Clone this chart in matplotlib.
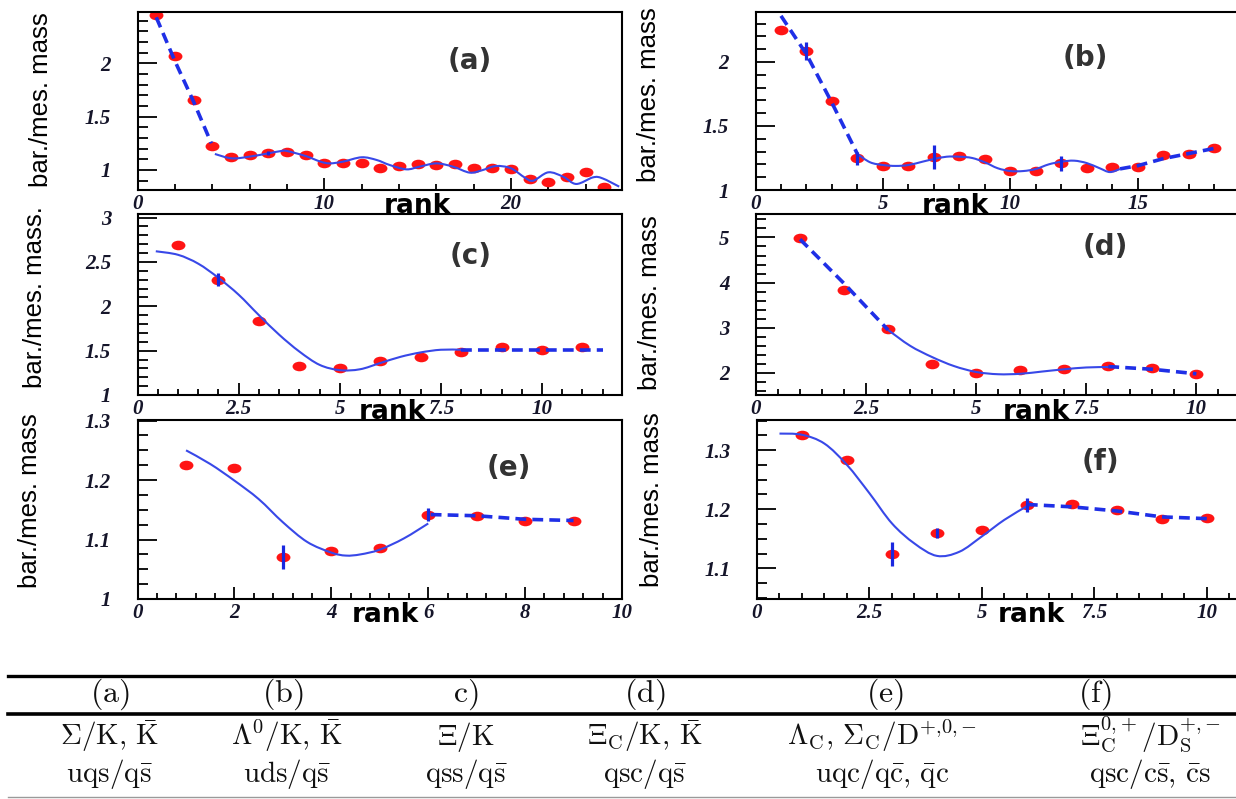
import numpy as np
import matplotlib
matplotlib.use("Agg")
import matplotlib.pyplot as plt
from matplotlib.path import Path
from matplotlib.patches import PathPatch
from matplotlib.transforms import Affine2D
from matplotlib.lines import Line2D
from matplotlib.ticker import MultipleLocator, FuncFormatter, NullFormatter

# ---------------- data: baryon / meson mass ratios vs. rank ----------------
a_rank = list(range(1, 26))
a_ratio = [2.45, 2.07, 1.66, 1.225, 1.125, 1.14, 1.162, 1.172, 1.14, 1.062,
           1.069, 1.062, 1.016, 1.037, 1.053, 1.047, 1.056, 1.022, 1.022, 1.006,
           0.912, 0.89, 0.937, 0.978, 0.844]
a_err_rank = [7]
a_err_size = [0.02]
a_trend_rank = [1.0, 2.0, 3.0, 3.95]
a_trend_ratio = [2.43, 2.02, 1.64, 1.25]
a_fit_rank = [4.14, 5.04, 6.0, 7.0, 7.7, 8.0, 9.0, 9.8, 10.3, 11.0, 12.0, 12.8,
              13.5, 14.4, 15.1, 16.0, 16.9, 17.8, 18.5, 19.2, 20.0, 20.75, 21.2,
              22.0, 22.8, 23.5, 24.4, 24.9, 25.8]
a_fit_ratio = [1.15, 1.109, 1.125, 1.156, 1.178, 1.178, 1.131, 1.078, 1.062,
               1.078, 1.119, 1.094, 1.047, 1.006, 1.031, 1.062, 1.031, 0.975,
               1.0, 1.037, 1.016, 0.928, 0.9, 0.978, 0.937, 0.869, 0.931, 0.922,
               0.844]

b_rank = list(range(1, 19))
b_ratio = [2.25, 2.086, 1.695, 1.247, 1.188, 1.19, 1.26, 1.266, 1.24, 1.151,
           1.151, 1.208, 1.169, 1.177, 1.182, 1.273, 1.279, 1.326]
b_err_rank = [2, 4, 7, 12]
b_err_size = [0.07, 0.05, 0.094, 0.06]
b_trend1_rank = [1.0, 2.0, 3.0, 4.0]
b_trend1_ratio = [2.36, 2.06, 1.68, 1.28]
b_fit_rank = [4.0, 4.5, 5.0, 5.5, 6.0, 6.55, 7.0, 7.5, 8.0, 8.5, 9.0, 9.5, 10.0,
              10.5, 11.0, 11.5, 12.0, 12.5, 13.0, 13.5, 13.9, 14.3]
b_fit_ratio = [1.28, 1.216, 1.195, 1.188, 1.195, 1.221, 1.242, 1.26, 1.26, 1.25,
               1.216, 1.17, 1.148, 1.148, 1.164, 1.2, 1.221, 1.229, 1.21, 1.17,
               1.14, 1.164]
b_trend2_rank = [14.3, 15.0, 16.0, 17.0, 18.0]
b_trend2_ratio = [1.165, 1.19, 1.245, 1.285, 1.325]

c_rank = list(range(1, 12))
c_ratio = [2.69, 2.30, 1.83, 1.33, 1.30, 1.38, 1.425, 1.49, 1.545, 1.51, 1.545]
c_err_rank = [2]
c_err_size = [0.07]
c_fit_rank = [0.45, 1.0, 1.5, 2.0, 2.5, 3.0, 3.5, 4.0, 4.5, 5.0, 5.5, 6.0, 6.5,
              7.0, 7.5, 8.0]
c_fit_ratio = [2.62, 2.58, 2.48, 2.32, 2.13, 1.90, 1.68, 1.49, 1.34, 1.28, 1.29,
               1.36, 1.43, 1.48, 1.51, 1.51]
c_trend_rank = [8.0, 11.5]
c_trend_ratio = [1.51, 1.51]

d_rank = list(range(1, 11))
d_ratio = [4.99, 3.83, 2.98, 2.19, 2.0, 2.07, 2.08, 2.15, 2.11, 1.98]
d_trend1_rank = [1.0, 2.0, 3.0]
d_trend1_ratio = [4.96, 3.98, 2.95]
d_fit_rank = [3.0, 3.5, 4.0, 4.5, 5.0, 5.5, 6.0, 6.5, 7.0, 7.5, 8.0]
d_fit_ratio = [2.95, 2.6, 2.35, 2.15, 2.02, 1.97, 1.98, 2.03, 2.08, 2.12, 2.13]
d_trend2_rank = [8.0, 9.0, 10.0]
d_trend2_ratio = [2.14, 2.08, 1.98]

e_rank = list(range(1, 10))
e_ratio = [1.225, 1.221, 1.071, 1.081, 1.086, 1.142, 1.14, 1.132, 1.132]
e_err_rank = [3, 6]
e_err_size = [0.02, 0.011]
e_fit_rank = [1.0, 1.5, 2.0, 2.5, 3.0, 3.5, 4.0, 4.3, 4.6, 5.0, 5.5, 6.0]
e_fit_ratio = [1.25, 1.227, 1.199, 1.168, 1.129, 1.096, 1.078, 1.073, 1.075,
               1.083, 1.102, 1.127]
e_trend_rank = [6.05, 7.0, 8.0, 9.0]
e_trend_ratio = [1.142, 1.14, 1.134, 1.132]

f_rank = list(range(1, 11))
f_ratio = [1.325, 1.284, 1.124, 1.160, 1.164, 1.207, 1.209, 1.198, 1.184, 1.185]
f_err_rank = [3, 4, 6]
f_err_size = [0.02, 0.008, 0.012]
f_fit_rank = [0.5, 1.0, 1.5, 2.0, 2.5, 3.0, 3.5, 4.0, 4.5, 5.0, 5.5, 6.0]
f_fit_ratio = [1.328, 1.326, 1.311, 1.275, 1.227, 1.176, 1.142, 1.121, 1.128,
               1.154, 1.182, 1.205]
f_trend_rank = [6.0, 7.0, 8.0, 9.0, 10.0]
f_trend_ratio = [1.208, 1.204, 1.197, 1.187, 1.184]

# table below the panels
col_tags = ["(a)", "(b)", "c)", "(d)", "(e)", "(f)"]
col_hadrons = [r"$\Sigma/\mathrm{K},\,\bar{\mathrm{K}}$",
               r"$\Lambda^{\mathbf{0}}/\mathrm{K},\,\bar{\mathrm{K}}$",
               r"$\Xi/\mathrm{K}$",
               r"$\Xi_{\mathrm{C}}/\mathrm{K},\,\bar{\mathrm{K}}$",
               r"$\Lambda_{\mathrm{C}},\,\Sigma_{\mathrm{C}}/\mathrm{D}^{+{,}\mathbf{0}{,}-}$",
               r"$\Xi_{\mathrm{C}}^{\mathbf{0}{,}+}/\mathrm{D}_{\mathrm{S}}^{+{,}-}$"]
col_quarks = [r"$\mathrm{uqs}/\mathrm{q}\bar{\mathrm{s}}$",
              r"$\mathrm{uds}/\mathrm{q}\bar{\mathrm{s}}$",
              r"$\mathrm{qss}/\mathrm{q}\bar{\mathrm{s}}$",
              r"$\mathrm{qsc}/\mathrm{q}\bar{\mathrm{s}}$",
              r"$\mathrm{uqc}/\mathrm{q}\bar{\mathrm{c}},\,\bar{\mathrm{q}}\mathrm{c}$",
              r"$\mathrm{qsc}/\mathrm{c}\bar{\mathrm{s}},\,\bar{\mathrm{c}}\mathrm{s}$"]

# ---------------- style ----------------
plt.rcParams.update({
    "font.family": ["Liberation Serif", "DejaVu Serif"],
    "font.style": "italic",
    "font.weight": "bold",
    "mathtext.fontset": "cm",
    "axes.linewidth": 1.5,
})

RED = "#ff1414"
BLUE_FIT = "#3848e8"
BLUE_DASH = "#1f2fe6"
BLUE_ERR = "#1a28e0"
LABEL_FONT = ["Liberation Sans", "DejaVu Sans"]

W, H = 1236, 799
fig = plt.figure(figsize=(W / 100, H / 100), dpi=100)


def box(left, right, top, bottom):
    return [left / W, 1 - bottom / H, (right - left) / W, (bottom - top) / H]


ellipse = Path.unit_circle().transformed(Affine2D().scale(1.45, 1.0))


def smooth(xs, ys):
    """Cubic Bezier path (Catmull-Rom style) through the given points."""
    pts = np.column_stack([xs, ys]).astype(float)
    verts = [pts[0]]
    codes = [Path.MOVETO]
    n = len(pts)
    for i in range(n - 1):
        p0 = pts[i - 1] if i > 0 else pts[i]
        p1, p2 = pts[i], pts[i + 1]
        p3 = pts[i + 2] if i + 2 < n else pts[i + 1]
        verts += [p1 + (p2 - p0) / 6.0, p2 - (p3 - p1) / 6.0, p2]
        codes += [Path.CURVE4] * 3
    return Path(verts, codes)


def panel(rect, rank, ratio, err_rank, err_size, fits, trends, xlim, ylim,
          xmaj, xmin, ymaj, ymin, tag, tag_xy, ylab, ylab_xy, rank_x, open_right):
    ax = fig.add_axes(rect)
    ax.set_xlim(*xlim)
    ax.set_ylim(*ylim)
    ax.set_autoscale_on(False)

    ax.plot(rank, ratio, ls="none", marker=ellipse, ms=10, color=RED,
            mec="none", zorder=2)
    for fx, fy in fits:
        ax.add_patch(PathPatch(smooth(fx, fy), fill=False, ec=BLUE_FIT,
                               lw=1.5, zorder=3))
    for tx, ty in trends:
        ax.plot(tx, ty, color=BLUE_DASH, lw=2.6, dashes=(3.0, 1.7), zorder=3,
                solid_capstyle="butt", dash_capstyle="butt")
    if err_rank:
        ec = [ratio[r - 1] for r in err_rank]
        ax.vlines(err_rank, np.array(ec) - np.array(err_size),
                  np.array(ec) + np.array(err_size), color=BLUE_ERR, lw=2.3,
                  zorder=4)

    fmt = FuncFormatter(lambda v, p: f"{v:g}")
    ax.xaxis.set_major_locator(MultipleLocator(xmaj))
    ax.xaxis.set_minor_locator(MultipleLocator(xmin))
    ax.yaxis.set_major_locator(MultipleLocator(ymaj))
    ax.yaxis.set_minor_locator(MultipleLocator(ymin))
    ax.xaxis.set_major_formatter(fmt)
    ax.yaxis.set_major_formatter(fmt)
    ax.xaxis.set_minor_formatter(NullFormatter())
    ax.yaxis.set_minor_formatter(NullFormatter())
    ax.tick_params(which="both", direction="in", top=False, right=False,
                   width=1.3, colors="black", labelcolor="#15152a",
                   labelsize=15)
    ax.tick_params(axis="x", which="major", length=8.5, pad=3)
    ax.tick_params(axis="x", which="minor", length=4)
    ax.tick_params(axis="y", which="major", length=14, pad=19)
    ax.tick_params(axis="y", which="minor", length=7)
    if open_right:
        ax.spines["right"].set_visible(False)

    ax.text(tag_xy[0], tag_xy[1], tag, transform=ax.transAxes, ha="center",
            va="center", fontsize=20, fontweight="bold", fontstyle="normal",
            family="DejaVu Sans", color="#333333")
    ax.set_ylabel(ylab, fontsize=18.5, fontstyle="normal", fontweight="normal",
                  family=LABEL_FONT, color="black")
    ax.yaxis.label.set_va("center")
    ax.yaxis.set_label_coords(*ylab_xy)
    ax.set_xlabel("rank", fontsize=19, fontweight="bold", fontstyle="normal",
                  family="DejaVu Sans", color="black")
    ax.xaxis.label.set_va("baseline")
    ax.xaxis.set_label_coords(rank_x, -0.13)
    return ax


panel(box(137.6, 622, 12, 190), a_rank, a_ratio, a_err_rank, a_err_size,
      [(a_fit_rank, a_fit_ratio)], [(a_trend_rank, a_trend_ratio)],
      (0, 25.95), (0.8125, 2.48), 10, 2, 0.5, 0.1,
      "(a)", (0.686, 0.725), "bar./mes. mass", (-0.199, 0.506), 0.577, False)

panel(box(755.5, 1236, 12, 190), b_rank, b_ratio, b_err_rank, b_err_size,
      [(b_fit_rank, b_fit_ratio)],
      [(b_trend1_rank, b_trend1_ratio), (b_trend2_rank, b_trend2_ratio)],
      (0, 18.85), (1.0, 2.39), 5, 1, 0.5, 0.1,
      "(b)", (0.686, 0.74), "bar./mes. mass", (-0.222, 0.534), 0.415, True)

panel(box(137.6, 622, 214, 395), c_rank, c_ratio, c_err_rank, c_err_size,
      [(c_fit_rank, c_fit_ratio)], [(c_trend_rank, c_trend_ratio)],
      (0, 11.98), (1.0, 3.04), 2.5, 0.5, 0.5, 0.1,
      "(c)", (0.688, 0.77), "bar./mes. mass.", (-0.212, 0.54), 0.525, False)

panel(box(756, 1236, 214, 395), d_rank, d_ratio, [], [],
      [(d_fit_rank, d_fit_ratio)],
      [(d_trend1_rank, d_trend1_ratio), (d_trend2_rank, d_trend2_ratio)],
      (0, 10.9), (1.51, 5.52), 2.5, 0.5, 1, 0.2,
      "(d)", (0.727, 0.82), "bar./mes. mass", (-0.22, 0.51), 0.585, True)

panel(box(137.6, 622, 420, 599), e_rank, e_ratio, e_err_rank, e_err_size,
      [(e_fit_rank, e_fit_ratio)], [(e_trend_rank, e_trend_ratio)],
      (0, 10.0), (1.0, 1.301), 2, 0.4, 0.1, 0.025,
      "(e)", (0.767, 0.73), "bar./mes. mass", (-0.222, 0.55), 0.512, False)

panel(box(757, 1236, 420, 599), f_rank, f_ratio, f_err_rank, f_err_size,
      [(f_fit_rank, f_fit_ratio)], [(f_trend_rank, f_trend_ratio)],
      (0, 10.65), (1.048, 1.351), 2.5, 0.5, 0.1, 0.025,
      "(f)", (0.718, 0.765), "bar./mes. mass", (-0.219, 0.553), 0.572, True)

# ---------------- table of quark contents ----------------
def hline(y, lw, color="black", x0=8):
    fig.add_artist(Line2D([x0 / W, 1.0], [1 - y / H, 1 - y / H],
                          transform=fig.transFigure, lw=lw, color=color))


hline(676, 2.4)
hline(714, 2.6)
hline(797, 1.0, color="#9a9a9a")

tag_x = [110, 283, 466, 645, 885, 1095]
text_x = [110, 287, 466, 645, 882, 1150]
for tx, s in zip(tag_x, col_tags):
    fig.text(tx / W, 1 - 702 / H, r"$\mathrm{" + s + "}$", ha="center",
             va="baseline", fontsize=23, color="#111111")
for tx, s in zip(text_x, col_hadrons):
    fig.text(tx / W, 1 - 745 / H, s, ha="center", va="baseline", fontsize=21,
             color="#111111")
for tx, s in zip(text_x, col_quarks):
    fig.text(tx / W, 1 - 782 / H, s, ha="center", va="baseline", fontsize=21,
             color="#111111")

fig.savefig("out.png", dpi=100, facecolor="white")
